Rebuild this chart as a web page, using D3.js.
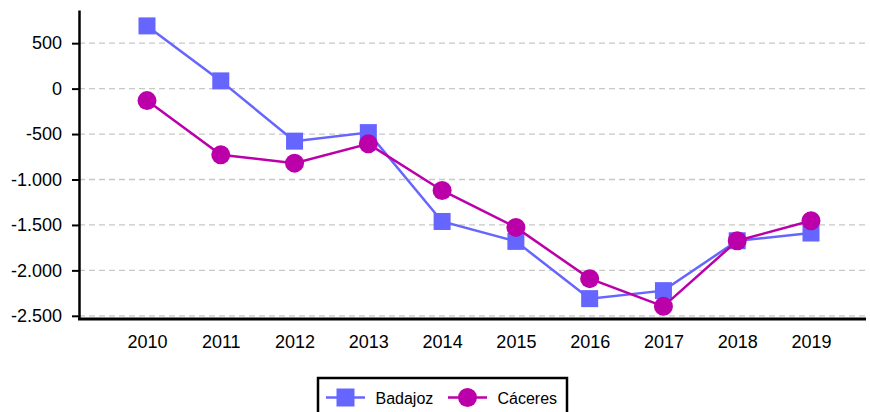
<!DOCTYPE html>
<html>
<head>
<meta charset="utf-8">
<script src="https://cdn.jsdelivr.net/npm/d3@7"></script>
<style>
  body { margin: 0; background: #fff; }
  svg { display: block; font-family: "Liberation Sans", Arial, sans-serif; }
</style>
</head>
<body>
<div id="chart"></div>
<script>
// data
const years = ["2010","2011","2012","2013","2014","2015","2016","2017","2018","2019"];
const badajoz = [690, 85, -578, -484, -1462, -1681, -2311, -2223, -1674, -1589];
const caceres = [-132, -729, -820, -608, -1121, -1527, -2091, -2396, -1674, -1454];
const yTicks = [500, 0, -500, -1000, -1500, -2000, -2500];
const seriesNames = ["Badajoz", "Cáceres"];

(function() {
  const width = 870, height = 412;
  const left = 79, right = 866, top = 10, bottom = 319;

  const svg = d3.select("#chart").append("svg")
    .attr("width", width)
    .attr("height", height);

  const x = d3.scalePoint()
    .domain(years)
    .range([147, 811]);

  const y = d3.scaleLinear()
    .domain([-2535, 865])
    .range([bottom, top]);

  const fmt = v => d3.format(",")(v).replace(/,/g, ".").replace("−", "-");

  // grid
  svg.append("g")
    .selectAll("line")
    .data(yTicks)
    .join("line")
    .attr("x1", left)
    .attr("x2", right)
    .attr("y1", d => y(d))
    .attr("y2", d => y(d))
    .attr("stroke", "#c8c8c8")
    .attr("stroke-width", 1.3)
    .attr("stroke-dasharray", "6,4");

  // y axis
  const yAxis = svg.append("g")
    .attr("transform", `translate(${left},0)`)
    .call(d3.axisLeft(y).tickValues(yTicks).tickFormat(fmt).tickSize(7).tickSizeOuter(0));
  yAxis.select(".domain").attr("stroke", "#000").attr("stroke-width", 2.5);
  yAxis.selectAll(".tick line").attr("stroke", "#000").attr("stroke-width", 2);
  yAxis.selectAll(".tick text")
    .attr("x", -17)
    .style("font-size", "18px")
    .style("font-family", "Liberation Sans, Arial, sans-serif")
    .attr("fill", "#000");

  // x axis
  const xAxis = svg.append("g")
    .attr("transform", `translate(0,${bottom})`)
    .call(d3.axisBottom(x).tickSize(0).tickSizeOuter(0));
  xAxis.select(".domain")
    .attr("d", `M${left - 1},0H${right}`)
    .attr("stroke", "#000")
    .attr("stroke-width", 3);
  xAxis.selectAll(".tick text")
    .attr("y", 16)
    .style("font-size", "18px")
    .style("font-family", "Liberation Sans, Arial, sans-serif")
    .attr("fill", "#000");

  const line = d3.line()
    .x((d, i) => x(years[i]))
    .y(d => y(d));

  // Badajoz
  svg.append("path")
    .datum(badajoz)
    .attr("d", line)
    .attr("fill", "none")
    .attr("stroke", "#6666ff")
    .attr("stroke-width", 2.5);
  svg.append("g")
    .selectAll("rect")
    .data(badajoz)
    .join("rect")
    .attr("x", (d, i) => x(years[i]) - 8.5)
    .attr("y", d => y(d) - 8.5)
    .attr("width", 17)
    .attr("height", 17)
    .attr("fill", "#6666ff");

  // Cáceres
  svg.append("path")
    .datum(caceres)
    .attr("d", line)
    .attr("fill", "none")
    .attr("stroke", "#bb00aa")
    .attr("stroke-width", 2.5);
  svg.append("g")
    .selectAll("circle")
    .data(caceres)
    .join("circle")
    .attr("cx", (d, i) => x(years[i]))
    .attr("cy", d => y(d))
    .attr("r", 9.5)
    .attr("fill", "#bb00aa");

  // ---- LEGEND ----
  const legend = svg.append("g").attr("transform", "translate(318,378)");
  legend.append("rect")
    .attr("x", 0).attr("y", 0)
    .attr("width", 249).attr("height", 40)
    .attr("fill", "#fff")
    .attr("stroke", "#000")
    .attr("stroke-width", 2.5);

  const colors = ["#6666ff", "#bb00aa"];
  const offsets = [8, 130];
  seriesNames.forEach((name, i) => {
    const g = legend.append("g").attr("transform", `translate(${offsets[i]},19.5)`);
    g.append("line")
      .attr("x1", 0).attr("x2", 39)
      .attr("y1", 0).attr("y2", 0)
      .attr("stroke", colors[i])
      .attr("stroke-width", 2.5);
    if (i === 0) {
      g.append("rect")
        .attr("x", 19.5 - 9).attr("y", -9)
        .attr("width", 18).attr("height", 18)
        .attr("fill", colors[i]);
    } else {
      g.append("circle")
        .attr("cx", 19.5).attr("cy", 0).attr("r", 9.5)
        .attr("fill", colors[i]);
    }
    g.append("text")
      .attr("x", 49.5)
      .attr("y", 6)
      .style("font-size", "16px")
      .attr("fill", "#000")
      .text(name);
  });
})();
</script>
</body>
</html>
